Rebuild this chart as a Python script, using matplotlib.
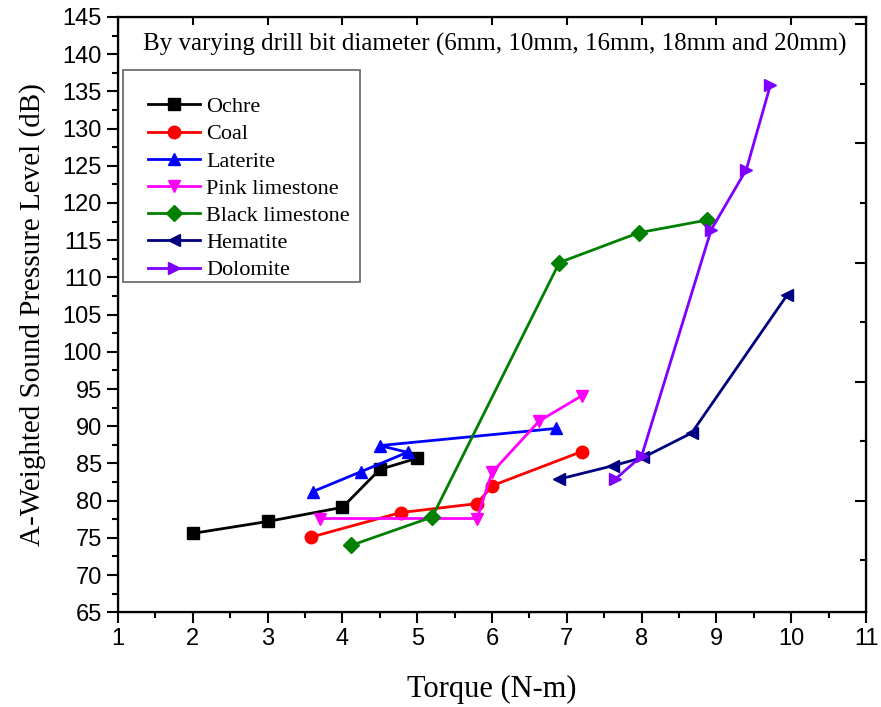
import matplotlib
matplotlib.use('Agg')
import matplotlib.pyplot as plt
from matplotlib.patches import Rectangle
from matplotlib.ticker import MultipleLocator

# torque (N-m) and A-weighted SPL (dB)
ochre_x = [2.0, 3.0, 4.0, 4.5, 5.0]
ochre_y = [75.6, 77.2, 79.1, 84.2, 85.7]
coal_x = [3.58, 4.78, 5.8, 6.0, 7.2]
coal_y = [75.1, 78.4, 79.6, 82.0, 86.6]
laterite_x = [3.6, 4.25, 4.87, 4.5, 6.85]
laterite_y = [81.2, 83.9, 86.5, 87.4, 89.7]
pink_x = [3.7, 5.8, 6.0, 6.63, 7.2]
pink_y = [77.6, 77.6, 83.8, 90.7, 94.1]
black_x = [4.12, 5.2, 6.9, 7.96, 8.87]
black_y = [74.0, 77.8, 112.0, 116.0, 117.7]
hematite_x = [6.9, 7.62, 8.02, 8.67, 9.95]
hematite_y = [82.9, 84.7, 85.8, 89.1, 107.7]
dolomite_x = [7.65, 8.0, 8.93, 9.4, 9.72]
dolomite_y = [82.9, 86.0, 116.4, 124.5, 135.8]

series = [
    ('Ochre', ochre_x, ochre_y, 's', 'black'),
    ('Coal', coal_x, coal_y, 'o', 'red'),
    ('Laterite', laterite_x, laterite_y, '^', 'blue'),
    ('Pink limestone', pink_x, pink_y, 'v', 'magenta'),
    ('Black limestone', black_x, black_y, 'D', 'green'),
    ('Hematite', hematite_x, hematite_y, '<', 'navy'),
    ('Dolomite', dolomite_x, dolomite_y, '>', '#8000FF'),
]

serif = 'Liberation Serif'
sans = 'Liberation Sans'

fig = plt.figure(figsize=(8.81, 7.07), dpi=100)
ax = fig.add_axes([0.134, 0.134, 0.849, 0.842])

for name, x, y, m, c in series:
    ms = 8 if m == 'D' else 9
    ax.plot(x, y, '-', marker=m, color=c, lw=2.0, markersize=ms, label=name)

ax.set_xlim(1, 11)
ax.set_ylim(65, 145)
ax.xaxis.set_major_locator(MultipleLocator(1))
ax.xaxis.set_minor_locator(MultipleLocator(0.5))
ax.yaxis.set_major_locator(MultipleLocator(5))
ax.yaxis.set_minor_locator(MultipleLocator(2.5))
ax.tick_params(which='major', direction='out', length=8, width=1.5, labelsize=17)
ax.tick_params(which='minor', direction='out', length=4, width=1.5)
for lab in ax.get_xticklabels() + ax.get_yticklabels():
    lab.set_fontfamily(sans)
for s in ax.spines.values():
    s.set_linewidth(1.6)

# inward ticks on the top and right frame
top = ax.twiny()
top.set_xlim(1, 11)
top.xaxis.set_major_locator(MultipleLocator(1))
top.tick_params(direction='in', length=6, width=1.5, labeltop=False)
right = ax.twinx()
right.set_ylim(65, 145)
right.yaxis.set_major_locator(MultipleLocator(16))
right.yaxis.set_minor_locator(MultipleLocator(8))
right.tick_params(which='major', direction='in', length=8, width=1.5, labelright=False)
right.tick_params(which='minor', direction='in', length=4, width=1.5)

ax.set_xlabel('Torque (N-m)', fontsize=22, family=serif, labelpad=18)
ax.set_ylabel('A-Weighted Sound Pressure Level (dB)', fontsize=21, family=serif, labelpad=12)

ax.text(0.503, 0.953, 'By varying drill bit diameter (6mm, 10mm, 16mm, 18mm and 20mm)',
        transform=ax.transAxes, ha='center', va='center', fontsize=18, family=serif)

# legend frame drawn separately (Origin-style uneven padding)
ax.add_patch(Rectangle((0.0067, 0.5546), 0.3169, 0.3564, transform=ax.transAxes,
                       facecolor='white', edgecolor='#707070', lw=1.3, zorder=4))
leg = ax.legend(loc='upper left', bbox_to_anchor=(0.0401, 0.8663), borderaxespad=0,
                prop={'family': serif, 'size': 16}, handlelength=2.34, handletextpad=0.27,
                frameon=False, labelspacing=0.3, borderpad=0)
leg.set_zorder(5)

fig.savefig('out.png', dpi=100)
